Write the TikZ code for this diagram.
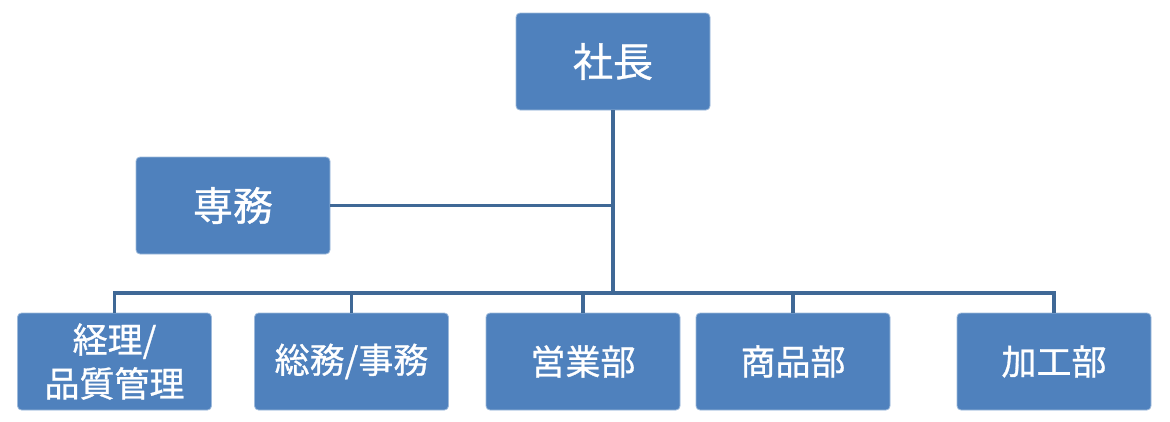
\documentclass[tikz,border=0pt]{standalone}
\usepackage{fontspec}
\setmainfont{Noto Sans CJK JP}[FakeBold=0.8]
\definecolor{boxblue}{HTML}{4F81BD}
\definecolor{lineblue}{HTML}{3F6896}
\begin{document}
\begin{tikzpicture}[x=1pt,y=-1pt,
  box/.style={fill=boxblue, draw=boxblue!55!white, line width=0.8pt, rounded corners=4pt,
    minimum width=194pt, minimum height=97pt, text=white, inner sep=0pt, align=center},
  bigtxt/.style={font=\fontsize{40}{46}\selectfont},
  smalltxt/.style={font=\fontsize{35}{44}\selectfont},
  conn/.style={draw=lineblue, line width=3.5pt}]
\useasboundingbox (0,0) rectangle (1170,421);
\coordinate (bus) at (613,293);
\node[box, bigtxt] (ceo) at (613,61.5) {社長};
\node[box, bigtxt] (senmu) at (233,205.5) {専務};
\node[box, smalltxt] (keiri) at (114.5,361.5) {経理/\\品質管理};
\node[box, smalltxt] (somu) at (351.5,361.5) {総務/事務};
\node[box, smalltxt] (eigyo) at (583,361.5) {営業部};
\node[box, smalltxt] (shohin) at (793,361.5) {商品部};
\node[box, smalltxt] (kako) at (1054,361.5) {加工部};
\draw[conn] (ceo.south) -- (ceo.south |- bus);
\draw[conn] (senmu.east) -- (senmu.east -| ceo.south);
\draw[conn] (keiri.north) -- (keiri.north |- bus) -- (kako.north |- bus) -- (kako.north);
\draw[conn] (somu.north) -- (somu.north |- bus);
\draw[conn] (eigyo.north) -- (eigyo.north |- bus);
\draw[conn] (shohin.north) -- (shohin.north |- bus);
\end{tikzpicture}
\end{document}
